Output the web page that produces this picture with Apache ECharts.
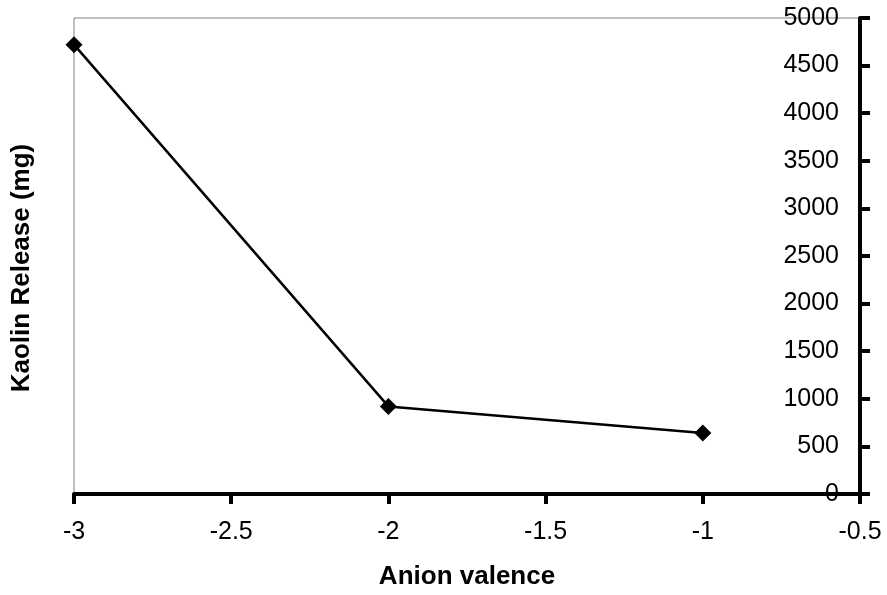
<!DOCTYPE html>
<html>
<head>
<meta charset="utf-8">
<script src="https://cdn.jsdelivr.net/npm/echarts@6/dist/echarts.min.js"></script>
<style>
html,body{margin:0;padding:0;background:#fff;}
#chart{width:887px;height:595px;}
</style>
</head>
<body>
<div id="chart"></div>
<script>
const xValues = [-3, -2, -1];
const kaolinRelease = [4720, 920, 640];
const xTicks = { min: -3, max: -0.5, interval: 0.5 };
const yTicks = { min: 0, max: 5000, interval: 500 };
const xTitle = 'Anion valence';
const yTitle = 'Kaolin Release (mg)';

const FONT = '"Liberation Sans", Arial, sans-serif';
const chart = echarts.init(document.getElementById('chart'));
chart.setOption({
  animation: false,
  backgroundColor: '#fff',
  grid: {
    left: 74, right: 27, top: 18, bottom: 101,
    show: true, borderColor: '#808080', borderWidth: 1, backgroundColor: 'transparent'
  },
  xAxis: {
    type: 'value',
    min: xTicks.min, max: xTicks.max, interval: xTicks.interval,
    name: xTitle,
    nameLocation: 'middle',
    nameGap: 70,
    nameTextStyle: { fontFamily: FONT, fontSize: 26, fontWeight: 'bold', color: '#000' },
    axisLine: { show: true, onZero: false, lineStyle: { color: '#000', width: 4 } },
    axisTick: { show: true, inside: false, length: 10, lineStyle: { color: '#000', width: 4 } },
    axisLabel: { margin: 26, fontFamily: FONT, fontSize: 25, color: '#000', showMaxLabel: true, showMinLabel: true,
      formatter: v => String(v) },
    splitLine: { show: false }
  },
  yAxis: {
    type: 'value',
    position: 'right',
    min: yTicks.min, max: yTicks.max, interval: yTicks.interval,
    axisLine: { show: true, onZero: false, lineStyle: { color: '#000', width: 4 } },
    axisTick: { show: true, inside: false, length: 10, lineStyle: { color: '#000', width: 4 } },
    axisLabel: { inside: true, margin: 21, fontFamily: FONT, fontSize: 25, color: '#000',
      formatter: v => String(v) },
    splitLine: { show: false }
  },
  graphic: [{
    type: 'text',
    x: 22, y: 268,
    rotation: Math.PI / 2,
    style: {
      text: yTitle,
      font: 'bold 26px ' + FONT,
      fill: '#000',
      align: 'center',
      verticalAlign: 'middle'
    }
  }],
  series: [{
    type: 'line',
    data: xValues.map((x, i) => [x, kaolinRelease[i]]),
    symbol: 'diamond',
    symbolSize: 17,
    lineStyle: { color: '#000', width: 2.5 },
    itemStyle: { color: '#000' },
    clip: false
  }]
});
</script>
</body>
</html>
